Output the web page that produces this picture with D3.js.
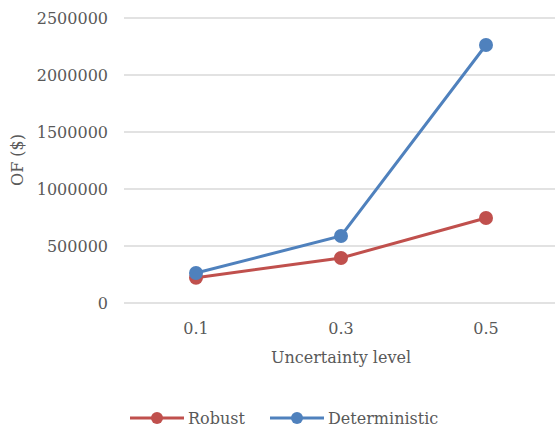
<!DOCTYPE html>
<html><head><meta charset="utf-8">
<script src="https://cdn.jsdelivr.net/npm/d3@7"></script>
<style>body{margin:0;background:#fff;} svg{display:block;font-family:"DejaVu Serif",serif;}</style>
</head><body>
<svg id="c" width="555" height="430"></svg>
<script>
const categories = ["0.1", "0.3", "0.5"];
const robust = [222000, 395000, 746000];
const deterministic = [263000, 588000, 2263000];
const yTicks = [0, 500000, 1000000, 1500000, 2000000, 2500000];
const seriesNames = ["Robust", "Deterministic"];
const seriesColors = ["#C0504D", "#4F81BD"];

const svg = d3.select("#c");
const x = d3.scalePoint().domain(categories).range([196, 486]);
const y = d3.scaleLinear().domain([0, 2500000]).range([303, 18]);
const textColor = "#595959";

// gridlines
svg.append("g").selectAll("line").data(yTicks).join("line")
  .attr("x1", 124).attr("x2", 555)
  .attr("y1", d => y(d)).attr("y2", d => y(d))
  .attr("stroke", "#d9d9d9").attr("stroke-width", 1.3);

// y tick labels
svg.append("g").selectAll("text").data(yTicks).join("text")
  .attr("x", 108).attr("y", d => y(d)).attr("dy", "0.35em")
  .attr("text-anchor", "end").attr("fill", textColor).attr("font-size", 16)
  .text(d => d);

// x tick labels
svg.append("g").selectAll("text").data(categories).join("text")
  .attr("x", d => x(d)).attr("y", 328).attr("dy", "0.35em")
  .attr("text-anchor", "middle").attr("fill", textColor).attr("font-size", 16)
  .text(d => d);

svg.append("text").attr("x", 341).attr("y", 357).attr("dy", "0.35em")
  .attr("text-anchor", "middle").attr("fill", textColor).attr("font-size", 16)
  .text("Uncertainty level");

svg.append("text").attr("transform", "translate(17,160) rotate(-90)").attr("dy", "0.35em")
  .attr("text-anchor", "middle").attr("fill", textColor).attr("font-size", 16)
  .text("OF ($)");

const data = [robust, deterministic];
const line = d3.line().x((d, i) => x(categories[i])).y(d => y(d));
data.forEach((vals, si) => {
  const g = svg.append("g");
  g.append("path").datum(vals).attr("d", line).attr("fill", "none")
    .attr("stroke", seriesColors[si]).attr("stroke-width", 3).attr("stroke-linecap", "round");
  g.selectAll("circle").data(vals).join("circle")
    .attr("cx", (d, i) => x(categories[i])).attr("cy", d => y(d)).attr("r", 7)
    .attr("fill", seriesColors[si]);
});

// legend
const legendX = [130, 270];
seriesNames.forEach((n, i) => {
  const g = svg.append("g").attr("transform", `translate(${legendX[i]},418)`);
  g.append("line").attr("x1", 0).attr("x2", 54).attr("stroke", seriesColors[i]).attr("stroke-width", 3);
  g.append("circle").attr("cx", 27).attr("r", 6).attr("fill", seriesColors[i]);
  g.append("text").attr("x", 58).attr("dy", "0.35em").attr("fill", textColor).attr("font-size", 16).text(n);
});
</script>
</body></html>
